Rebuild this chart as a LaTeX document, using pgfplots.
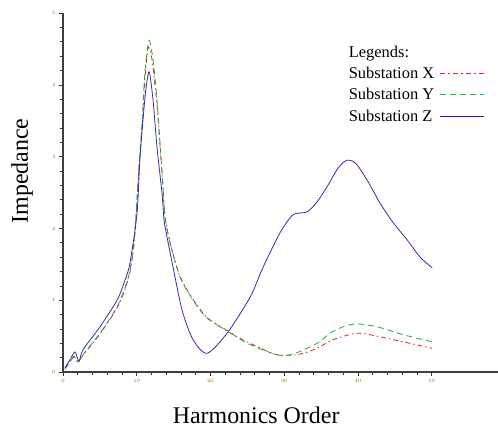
\documentclass[border=0pt]{standalone}
\usepackage{fontspec}
\setmainfont{Liberation Serif}
\usepackage{pgfplots}
\pgfplotsset{compat=1.18}
\definecolor{cX}{RGB}{215,35,35}
\definecolor{cY}{RGB}{30,170,60}
\definecolor{cZ}{RGB}{45,45,185}
\definecolor{lX}{RGB}{240,30,30}
\definecolor{lY}{RGB}{20,190,60}
\definecolor{lZ}{RGB}{25,25,210}
\begin{document}
\begin{tikzpicture}
\path[use as bounding box] (-63bp,-55bp) rectangle (435bp,372bp);
\begin{axis}[
  at={(0,0)}, anchor=south west,
  scale only axis, width=435bp, height=359bp,
  xmin=0, xmax=59, ymin=0, ymax=5,
  axis x line*=bottom, axis y line*=left,
  axis line style={-, line width=1.2pt, black!75},
  xtick={0,10,20,30,40,50}, ytick={0,1,2,3,4,5},
  minor x tick num=4, minor y tick num=4,
  tick align=outside,
  major tick length=4bp, minor tick length=3bp,
  tick style={black!80, line width=0.6pt},
  tick label style={font=\fontsize{3}{3}\selectfont, text=orange!70!black},
  xlabel={Harmonics Order},
  ylabel={Impedance},
  xlabel style={font=\fontsize{24}{26}\selectfont, at={(axis description cs:0.444,-0.12)}, anchor=center},
  ylabel style={font=\fontsize{24}{26}\selectfont, at={(axis description cs:-0.094,0.56)}, anchor=center, rotate=0},
  legend plot pos=right,
  legend cell align=left,
  legend style={draw=none, fill=none, font=\fontsize{16.5}{18}\selectfont,
    at={(axis description cs:0.652,0.915)}, anchor=north west, row sep=4.5pt, inner sep=0pt},
  legend image code/.code={\draw[#1] (0.15cm,0cm) -- (1.7cm,0cm);},
]
\addlegendimage{empty legend}
\addlegendentry{Legends:}
\addlegendimage{draw=lX, line width=1pt, dash pattern=on 5pt off 3pt on 2pt off 3pt}
\addlegendentry{Substation X}
\addlegendimage{draw=lY, line width=1pt, dash pattern=on 6pt off 4pt}
\addlegendentry{Substation Y}
\addlegendimage{draw=lZ, line width=1pt}
\addlegendentry{Substation Z}
\addplot[cX, line width=0.8pt, smooth, tension=0.45, dash pattern=on 5pt off 3pt on 1.5pt off 3pt, forget plot] coordinates {
(0.27,0.05) (0.95,0.15) (1.49,0.22) (2.04,0.15) (2.99,0.27) (5.02,0.53) (7.33,0.89) (8.41,1.15) (9.09,1.40) (9.6,1.75) (9.9,2.15) (10.31,2.85) (10.72,3.42) (11.13,4.10) (11.53,4.51) (11.9,4.45) (12.21,4.25) (12.75,3.72) (13.16,3.15) (13.57,2.56) (13.84,2.16) (14.52,1.80) (15.88,1.33) (17.64,1.01) (19.54,0.76) (22.25,0.57) (25.37,0.40) (29.04,0.24) (32.16,0.25) (34.46,0.33) (36.63,0.45) (39.89,0.54) (43.01,0.49) (46.13,0.42) (50.07,0.33)
};
\addplot[cY, line width=0.8pt, smooth, tension=0.45, dash pattern=on 6pt off 4pt, forget plot] coordinates {
(0.27,0.04) (0.95,0.14) (1.49,0.21) (2.04,0.14) (2.99,0.28) (5.02,0.54) (7.33,0.91) (8.41,1.17) (9.09,1.42) (9.6,1.78) (9.9,2.19) (10.31,2.88) (10.72,3.47) (11.13,4.21) (11.67,4.62) (12.21,4.35) (12.75,3.79) (13.16,3.19) (13.57,2.58) (13.84,2.16) (14.52,1.80) (15.88,1.32) (17.64,1.00) (19.54,0.75) (22.25,0.58) (24.97,0.40) (29.04,0.24) (31.21,0.25) (34.46,0.40) (36.23,0.54) (37.99,0.63) (39.89,0.67) (42.6,0.63) (46.13,0.52) (50.07,0.42)
};
\addplot[cZ, line width=0.8pt, smooth, tension=0.45, forget plot] coordinates {
(0.27,0.06) (0.95,0.17) (1.63,0.28) (2.17,0.15) (2.71,0.31) (5.02,0.63) (7.33,1.00) (8.41,1.28) (9.09,1.52) (10.04,2.21) (10.45,2.99) (11.13,3.83) (11.67,4.18) (12.21,3.79) (12.75,3.13) (13.43,2.49) (13.70,2.12) (14.11,1.88) (14.93,1.46) (16.15,0.86) (17.64,0.45) (19.54,0.26) (22.25,0.54) (25.37,1.04) (27.14,1.46) (29.44,1.94) (31.21,2.19) (33.11,2.23) (34.46,2.37) (35.82,2.58) (37.31,2.84) (38.53,2.95) (39.76,2.90) (41.38,2.65) (43.01,2.35) (44.78,2.08) (46.68,1.84) (48.44,1.60) (50.07,1.45)
};
\end{axis}
\end{tikzpicture}
\end{document}
